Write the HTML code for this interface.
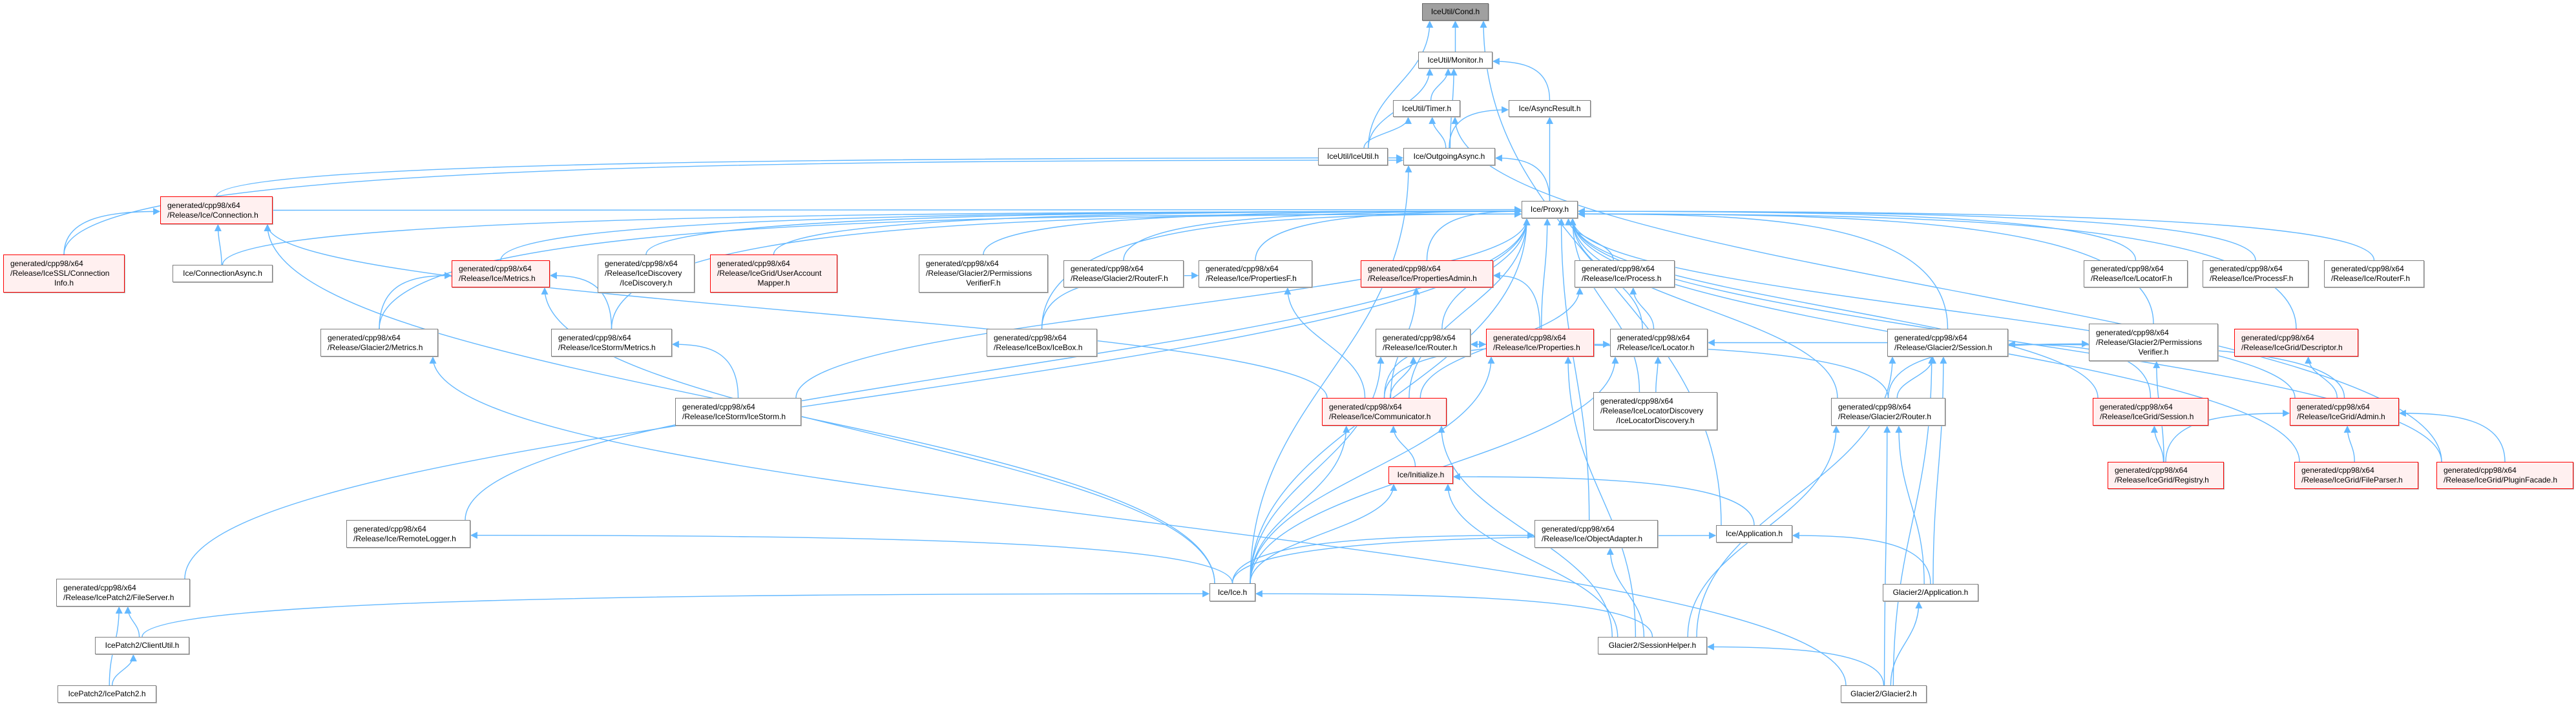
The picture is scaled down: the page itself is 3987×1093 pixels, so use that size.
<!DOCTYPE html>
<html><head><meta charset="utf-8">
<style>
html,body{margin:0;padding:0;background:#fff;}
body{width:3987px;height:1093px;position:relative;overflow:hidden;font-family:"Liberation Sans",Arial,sans-serif;}
svg{position:absolute;left:0;top:0;}
.n{position:absolute;box-sizing:border-box;border:1.5px solid #808080;background:#fff;font-size:12px;line-height:15px;color:#000;display:flex;flex-direction:column;justify-content:center;padding:0 10px;white-space:nowrap;box-shadow:1px 1px 0 #bbb;}
.n.c{align-items:center;text-align:center;}
.n.r{border-color:#ff0000;background:#fff0f0;}
.n.g{background:#a0a0a0;border-color:#666;}
.n span{display:block;}
.n .m{text-align:center;}
</style></head><body>
<svg id="s" width="3987" height="1093" xmlns="http://www.w3.org/2000/svg">
<defs><marker id="a" viewBox="0 0 10 10" refX="9" refY="5" markerWidth="11" markerHeight="11" markerUnits="userSpaceOnUse" orient="auto"><path d="M0,0 L10,5 L0,10 z" fill="#63b8ff"/></marker></defs>
<g id="e" fill="none" stroke="#63b8ff" stroke-width="1.4"></g>
</svg>

<div class="n c g" style="left:2201px;top:5px;width:103px;height:27px">IceUtil/Cond.h</div>
<div class="n c" style="left:2195px;top:80px;width:115px;height:26px">IceUtil/Monitor.h</div>
<div class="n c" style="left:2156px;top:155px;width:104px;height:26px">IceUtil/Timer.h</div>
<div class="n c" style="left:2335px;top:155px;width:127px;height:26px">Ice/AsyncResult.h</div>
<div class="n c" style="left:2040px;top:229px;width:108px;height:27px">IceUtil/IceUtil.h</div>
<div class="n c" style="left:2172px;top:229px;width:142px;height:27px">Ice/OutgoingAsync.h</div>
<div class="n c" style="left:2355px;top:311px;width:87px;height:27px">Ice/Proxy.h</div>

<div class="n r" style="left:248px;top:304px;width:174px;height:43px"><span>generated/cpp98/x64</span><span>/Release/Ice/Connection.h</span></div>
<div class="n r" style="left:5px;top:394px;width:188px;height:59px"><span>generated/cpp98/x64</span><span>/Release/IceSSL/Connection</span><span class="m">Info.h</span></div>
<div class="n c" style="left:267px;top:410px;width:155px;height:27px">Ice/ConnectionAsync.h</div>
<div class="n r" style="left:699px;top:403px;width:152px;height:42px"><span>generated/cpp98/x64</span><span>/Release/Ice/Metrics.h</span></div>
<div class="n" style="left:925px;top:394px;width:150px;height:59px"><span>generated/cpp98/x64</span><span>/Release/IceDiscovery</span><span class="m">/IceDiscovery.h</span></div>
<div class="n r" style="left:1099px;top:394px;width:197px;height:59px"><span>generated/cpp98/x64</span><span>/Release/IceGrid/UserAccount</span><span class="m">Mapper.h</span></div>
<div class="n" style="left:1422px;top:394px;width:200px;height:59px"><span>generated/cpp98/x64</span><span>/Release/Glacier2/Permissions</span><span class="m">VerifierF.h</span></div>
<div class="n" style="left:1646px;top:403px;width:186px;height:42px"><span>generated/cpp98/x64</span><span>/Release/Glacier2/RouterF.h</span></div>
<div class="n" style="left:1855px;top:403px;width:176px;height:42px"><span>generated/cpp98/x64</span><span>/Release/Ice/PropertiesF.h</span></div>
<div class="n r" style="left:2106px;top:403px;width:205px;height:42px"><span>generated/cpp98/x64</span><span>/Release/Ice/PropertiesAdmin.h</span></div>
<div class="n" style="left:2437px;top:403px;width:155px;height:42px"><span>generated/cpp98/x64</span><span>/Release/Ice/Process.h</span></div>
<div class="n" style="left:3225px;top:403px;width:161px;height:42px"><span>generated/cpp98/x64</span><span>/Release/Ice/LocatorF.h</span></div>
<div class="n" style="left:3409px;top:403px;width:164px;height:42px"><span>generated/cpp98/x64</span><span>/Release/Ice/ProcessF.h</span></div>
<div class="n" style="left:3597px;top:403px;width:155px;height:42px"><span>generated/cpp98/x64</span><span>/Release/Ice/RouterF.h</span></div>

<div class="n" style="left:496px;top:509px;width:182px;height:43px"><span>generated/cpp98/x64</span><span>/Release/Glacier2/Metrics.h</span></div>
<div class="n" style="left:853px;top:509px;width:187px;height:43px"><span>generated/cpp98/x64</span><span>/Release/IceStorm/Metrics.h</span></div>
<div class="n" style="left:1527px;top:509px;width:171px;height:43px"><span>generated/cpp98/x64</span><span>/Release/IceBox/IceBox.h</span></div>
<div class="n" style="left:2129px;top:509px;width:147px;height:43px"><span>generated/cpp98/x64</span><span>/Release/Ice/Router.h</span></div>
<div class="n r" style="left:2300px;top:509px;width:167px;height:43px"><span>generated/cpp98/x64</span><span>/Release/Ice/Properties.h</span></div>
<div class="n" style="left:2492px;top:509px;width:151px;height:43px"><span>generated/cpp98/x64</span><span>/Release/Ice/Locator.h</span></div>
<div class="n" style="left:2921px;top:509px;width:187px;height:43px"><span>generated/cpp98/x64</span><span>/Release/Glacier2/Session.h</span></div>
<div class="n" style="left:3233px;top:501px;width:200px;height:58px"><span>generated/cpp98/x64</span><span>/Release/Glacier2/Permissions</span><span class="m">Verifier.h</span></div>
<div class="n r" style="left:3458px;top:509px;width:192px;height:43px"><span>generated/cpp98/x64</span><span>/Release/IceGrid/Descriptor.h</span></div>

<div class="n" style="left:1045px;top:616px;width:195px;height:43px"><span>generated/cpp98/x64</span><span>/Release/IceStorm/IceStorm.h</span></div>
<div class="n r" style="left:2046px;top:616px;width:193px;height:43px"><span>generated/cpp98/x64</span><span>/Release/Ice/Communicator.h</span></div>
<div class="n" style="left:2466px;top:607px;width:192px;height:59px"><span>generated/cpp98/x64</span><span>/Release/IceLocatorDiscovery</span><span class="m">/IceLocatorDiscovery.h</span></div>
<div class="n" style="left:2834px;top:616px;width:177px;height:43px"><span>generated/cpp98/x64</span><span>/Release/Glacier2/Router.h</span></div>
<div class="n r" style="left:3239px;top:616px;width:179px;height:43px"><span>generated/cpp98/x64</span><span>/Release/IceGrid/Session.h</span></div>
<div class="n r" style="left:3544px;top:616px;width:169px;height:43px"><span>generated/cpp98/x64</span><span>/Release/IceGrid/Admin.h</span></div>
<div class="n r" style="left:3262px;top:715px;width:180px;height:42px"><span>generated/cpp98/x64</span><span>/Release/IceGrid/Registry.h</span></div>
<div class="n r" style="left:3551px;top:715px;width:192px;height:42px"><span>generated/cpp98/x64</span><span>/Release/IceGrid/FileParser.h</span></div>
<div class="n r" style="left:3771px;top:715px;width:212px;height:42px"><span>generated/cpp98/x64</span><span>/Release/IceGrid/PluginFacade.h</span></div>
<div class="n c r" style="left:2149px;top:722px;width:100px;height:27px">Ice/Initialize.h</div>

<div class="n" style="left:536px;top:805px;width:192px;height:43px"><span>generated/cpp98/x64</span><span>/Release/Ice/RemoteLogger.h</span></div>
<div class="n" style="left:2375px;top:805px;width:191px;height:43px"><span>generated/cpp98/x64</span><span>/Release/Ice/ObjectAdapter.h</span></div>
<div class="n c" style="left:2656px;top:813px;width:118px;height:27px">Ice/Application.h</div>
<div class="n" style="left:87px;top:896px;width:207px;height:43px"><span>generated/cpp98/x64</span><span>/Release/IcePatch2/FileServer.h</span></div>
<div class="n c" style="left:1872px;top:903px;width:71px;height:28px">Ice/Ice.h</div>
<div class="n c" style="left:2914px;top:904px;width:148px;height:27px">Glacier2/Application.h</div>
<div class="n c" style="left:147px;top:986px;width:146px;height:27px">IcePatch2/ClientUtil.h</div>
<div class="n c" style="left:2473px;top:986px;width:169px;height:27px">Glacier2/SessionHelper.h</div>
<div class="n c" style="left:89px;top:1061px;width:153px;height:27px">IcePatch2/IcePatch2.h</div>
<div class="n c" style="left:2849px;top:1061px;width:133px;height:27px">Glacier2/Glacier2.h</div>

<script>
var N={cond:[2201,5,2304,32],mon:[2195,80,2310,106],timer:[2156,155,2260,181],async:[2335,155,2462,181],iceutil:[2040,229,2148,256],outg:[2172,229,2314,256],proxy:[2355,311,2442,338],
conn:[248,304,422,347],ssl:[5,394,193,453],casync:[267,410,422,437],metrics:[699,403,851,445],idisc:[925,394,1075,453],uam:[1099,394,1296,453],pvf:[1422,394,1622,453],g2rf:[1646,403,1832,445],propf:[1855,403,2031,445],padm:[2106,403,2311,445],proc:[2437,403,2592,445],locf:[3225,403,3386,445],procf:[3409,403,3573,445],routf:[3597,403,3752,445],
g2met:[496,509,678,552],ismet:[853,509,1040,552],icebox:[1527,509,1698,552],router:[2129,509,2276,552],props:[2300,509,2467,552],loc:[2492,509,2643,552],g2sess:[2921,509,3108,552],pv:[3233,501,3433,559],desc:[3458,509,3650,552],
istorm:[1045,616,1240,659],comm:[2046,616,2239,659],ild:[2466,607,2658,666],g2router:[2834,616,3011,659],igsess:[3239,616,3418,659],admin:[3544,616,3713,659],reg:[3262,715,3442,757],fparse:[3551,715,3743,757],plug:[3771,715,3983,757],init:[2149,722,2249,749],
rlog:[536,805,728,848],oa:[2375,805,2566,848],app:[2656,813,2774,840],fsrv:[87,896,294,939],iceh:[1872,903,1943,931],g2app:[2914,904,3062,931],cutil:[147,986,293,1013],shelp:[2473,986,2642,1013],patch:[89,1061,242,1088],g2g:[2849,1061,2982,1088]};
var E="mon>cond iceutil>cond timer>mon iceutil>mon outg>mon async>mon iceutil>timer outg>timer outg>async proxy>async proxy>outg ssl>outg conn>outg iceh>outg app>cond plug>timer "+
"conn>proxy casync>proxy metrics>proxy idisc>proxy uam>proxy pvf>proxy g2rf>proxy propf>proxy padm>proxy proc>proxy locf>proxy procf>proxy routf>proxy g2met>proxy ismet>proxy icebox>proxy router>proxy props>proxy loc>proxy g2sess>proxy pv>proxy desc>proxy istorm>proxy comm>proxy ild>proxy g2router>proxy igsess>proxy admin>proxy fparse>proxy plug>proxy oa>proxy rlog>proxy fsrv>proxy iceh>proxy ssl>conn casync>conn iceh>conn comm>conn "+
"g2met>metrics ismet>metrics iceh>metrics istorm>ismet icebox>propf comm>propf props>padm comm>padm comm>proc loc>proc comm>router iceh>router g2router>router comm>props iceh>props shelp>props comm>loc ild>loc iceh>loc g2sess>loc init>comm iceh>comm shelp>comm iceh>init shelp>init app>init iceh>oa shelp>oa iceh>app g2app>app cutil>iceh shelp>iceh "+
"g2router>g2sess g2app>g2sess g2g>g2sess shelp>g2sess igsess>g2sess admin>g2sess g2app>g2router g2g>g2router shelp>g2router g2router>pv reg>pv g2g>shelp g2g>g2app g2g>g2met reg>igsess reg>admin fparse>admin plug>admin admin>desc patch>fsrv cutil>fsrv patch>cutil iceh>rlog";
var g=document.getElementById('e'),h='';
E.split(' ').forEach(function(p){var q=p.split('>'),s=N[q[0]],t=N[q[1]];if(!s||!t)return;
var sx=(s[0]+s[2])/2,sy=(s[1]+s[3])/2,tx=(t[0]+t[2])/2,ty=(t[1]+t[3])/2,d;
if(s[1]>t[3]+8){
 var vy=s[1]-t[3];
 if(Math.abs(tx-sx)>2.5*vy && vy<260 && (sx<t[0]||sx>t[2])){
  var x1=sx,y1=s[1];var right=tx>sx;
  var x2=right?t[0]-1:t[2]+1;
  var y2=t[1]+(t[3]-t[1])*0.5+Math.min(10,vy/25);
  d='M'+x1+','+y1+' C'+x1+','+(y2+8)+' '+(x2+(x1-x2)*0.5)+','+y2+' '+x2+','+y2;
 }else{
 var x1=Math.max(s[0]+8,Math.min(s[2]-8,sx+(tx-sx)*0.15)),y1=s[1];
 var x2=Math.max(t[0]+8,Math.min(t[2]-8,tx+(sx-tx)*0.25)),y2=t[3]+1;
 var dy=(y1-y2)*0.45;
 d='M'+x1+','+y1+' C'+x1+','+(y1-dy)+' '+x2+','+(y2+dy)+' '+x2+','+y2;}
}else{
 var right=tx>sx;var x1=right?s[2]:s[0],y1=sy;var x2=right?t[0]-1:t[2]+1,y2=ty;var dx=(x2-x1)*0.4;
 d='M'+x1+','+y1+' C'+(x1+dx)+','+y1+' '+(x2-dx)+','+y2+' '+x2+','+y2;
}
h+='<path d="'+d+'" marker-end="url(#a)"/>';});
g.innerHTML=h;
</script>
</body></html>
